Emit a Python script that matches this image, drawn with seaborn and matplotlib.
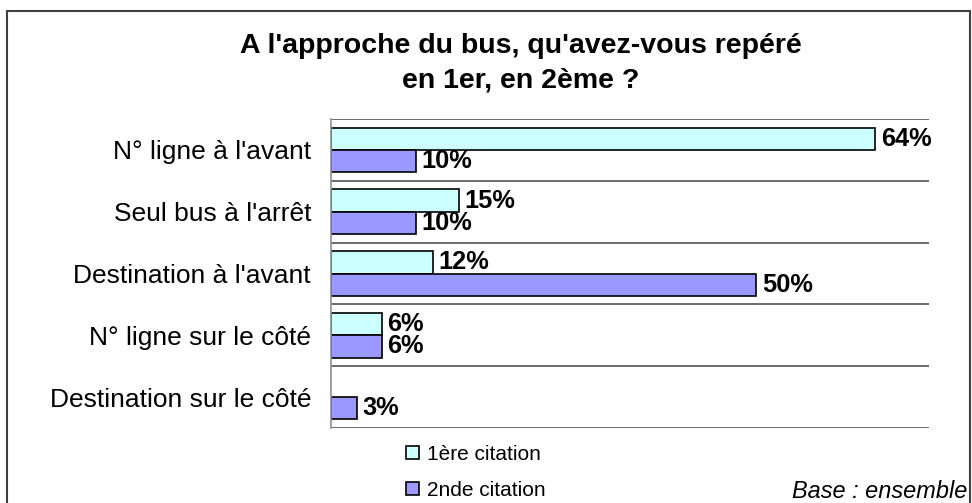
import matplotlib
matplotlib.use("Agg")
import matplotlib.pyplot as plt
import numpy as np
import pandas as pd
import seaborn as sns
from matplotlib.patches import Patch, Rectangle

categories = [
    "N° ligne à l'avant",
    "Seul bus à l'arrêt",
    "Destination à l'avant",
    "N° ligne sur le côté",
    "Destination sur le côté",
]
series = ["1ère citation", "2nde citation"]
first_citation = [64, 15, 12, 6, 0]
second_citation = [10, 10, 50, 6, 3]
colors = ["#CCFFFF", "#9999FF"]

title_lines = ["A l'approche du bus, qu'avez-vous repéré", "en 1er, en 2ème ?"]
base_note = "Base : ensemble"

df = pd.DataFrame({
    "categorie": categories * 2,
    "valeur": first_citation + second_citation,
    "citation": [series[0]] * len(categories) + [series[1]] * len(categories),
})

sns.set_style("white")
plt.rcParams["font.family"] = ["Liberation Sans", "DejaVu Sans"]
plt.rcParams["text.color"] = "black"
plt.rcParams["ytick.labelcolor"] = "black"

W, H = 972, 503
fig = plt.figure(figsize=(W / 100, H / 100), dpi=100)
ax = fig.add_axes([331 / W, 1 - 428 / H, (929 - 331) / W, (428 - 119) / H])

sns.barplot(data=df, x="valeur", y="categorie", hue="citation", orient="h",
            palette=colors, saturation=1, width=0.72, edgecolor="black",
            linewidth=1.2, errorbar=None, legend=False, ax=ax)

for container in ax.containers:
    vals = container.datavalues
    for bar, v in zip(container, vals):
        if v == 0:
            bar.set_visible(False)
    ax.bar_label(container, labels=[f"{v:.0f}%" if v > 0 else "" for v in vals],
                 padding=4, fontsize=18.3, fontweight="bold", color="black")

ax.set_xlim(0, 70.3)
ax.set_ylim(len(categories) - 0.5, -0.5)
ax.set_xlabel("")
ax.set_ylabel("")
ax.set_xticks([])
ax.set_yticks(np.arange(-0.5, len(categories), 1), minor=True)
ax.tick_params(axis="y", which="major", length=0, pad=14.4, labelsize=19,
               labelcolor="black")
ax.tick_params(axis="y", which="minor", length=7, width=1.2, color="#808080")
ax.grid(which="minor", axis="y", color="#606060", linewidth=1.3)
ax.set_axisbelow(True)
for side in ["top", "right", "bottom"]:
    ax.spines[side].set_visible(False)
ax.spines["left"].set_color("#909090")
ax.spines["left"].set_linewidth(1.2)

fig.text(521 / W, 1 - 46 / H, title_lines[0], ha="center", va="center",
         fontsize=20.5, fontweight="bold", color="black")
fig.text(521 / W, 1 - 81 / H, title_lines[1], ha="center", va="center",
         fontsize=20.5, fontweight="bold", color="black")

handles = [Patch(facecolor=c, edgecolor="black", linewidth=1.2) for c in colors]
fig.legend(handles, series, loc="upper left", bbox_to_anchor=(406 / W, 1 - 445 / H),
           frameon=False, fontsize=15, handlelength=0.6, handleheight=0.6,
           handletextpad=0.4, labelspacing=0.8, borderpad=0, borderaxespad=0,
           labelcolor="black")

fig.text(967 / W, 1 - 491 / H, base_note, ha="right", va="center",
         fontsize=16.9, fontstyle="italic", color="black")

fig.patches.append(Rectangle((7 / W, -0.1), (970 - 7) / W, 1.1 - 11 / H,
                             transform=fig.transFigure, fill=False,
                             edgecolor="#404040", linewidth=1.5))

fig.savefig("out.png", dpi=100)
